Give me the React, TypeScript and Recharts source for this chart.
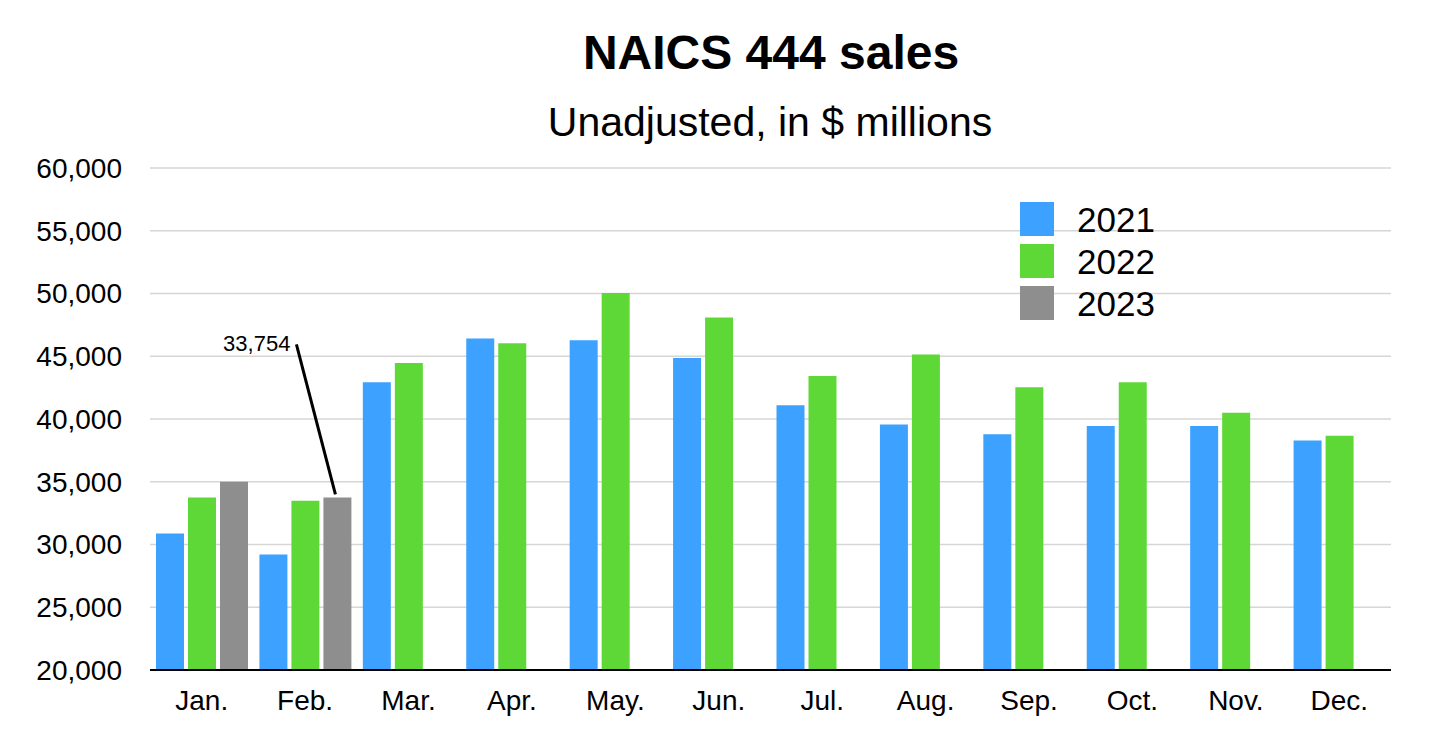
import React from "react";
import {
  BarChart,
  Bar,
  XAxis,
  YAxis,
  CartesianGrid,
  Legend,
  LabelList,
} from "recharts";

const months = ["Jan.", "Feb.", "Mar.", "Apr.", "May.", "Jun.", "Jul.", "Aug.", "Sep.", "Oct.", "Nov.", "Dec."];
const sales2021 = [30880, 29210, 42930, 46410, 46270, 44870, 41100, 39560, 38790, 39450, 39450, 38290];
const sales2022 = [33750, 33480, 44470, 46030, 50040, 48080, 43430, 45130, 42530, 42930, 40490, 38660];
const sales2023: (number | null)[] = [35000, 33754, null, null, null, null, null, null, null, null, null, null];
const yTicks = [20000, 25000, 30000, 35000, 40000, 45000, 50000, 55000, 60000];
const calloutIndex = 1;

const series = [
  { key: "y2021", name: "2021", color: "#3DA1FF" },
  { key: "y2022", name: "2022", color: "#5ED836" },
  { key: "y2023", name: "2023", color: "#8E8E8E" },
];

const data = months.map((m, i) => ({
  month: m,
  y2021: sales2021[i],
  y2022: sales2022[i],
  y2023: sales2023[i],
}));

const FONT = '"Liberation Sans", Arial, Helvetica, sans-serif';
const fmt = (v: number) => v.toLocaleString("en-US");

function Callout(props: any) {
  const { x, y, width, value, index } = props;
  if (index !== calloutIndex || value == null) return null;
  const cx = x + width / 2;
  return (
    <g>
      <line x1={cx - 41} y1={y - 153} x2={cx - 2} y2={y - 3} stroke="#000" strokeWidth={3} />
      <text x={cx - 47} y={y - 146} textAnchor="end" fontSize={22} fill="#000" fontFamily={FONT}>
        {fmt(value)}
      </text>
    </g>
  );
}

function LegendBox() {
  return (
    <div style={{ fontFamily: FONT }}>
      {series.map((s) => (
        <div key={s.key} style={{ display: "flex", alignItems: "center", height: 42 }}>
          <div style={{ width: 34, height: 34, background: s.color, marginRight: 23 }} />
          <span style={{ fontSize: 35, color: "#000", lineHeight: "35px" }}>{s.name}</span>
        </div>
      ))}
    </div>
  );
}

export default function App() {
  return (
    <div
      style={{
        position: "absolute",
        left: 0,
        top: 0,
        width: 1440,
        height: 741,
        background: "#fff",
        fontFamily: FONT,
      }}
    >
      <div
        style={{
          position: "absolute",
          left: 0,
          width: 1542,
          top: 29,
          textAlign: "center",
          fontSize: 48,
          lineHeight: "48px",
          fontWeight: "bold",
          color: "#000",
        }}
      >
        NAICS 444 sales
      </div>
      <div
        style={{
          position: "absolute",
          left: 0,
          width: 1540,
          top: 102,
          textAlign: "center",
          fontSize: 41,
          lineHeight: "41px",
          color: "#000",
        }}
      >
        Unadjusted, in $ millions
      </div>
      <BarChart
        width={1440}
        height={741}
        data={data}
        margin={{ top: 168, right: 49, left: 0, bottom: 21 }}
        barSize={28}
        barGap={4}
      >
        <CartesianGrid horizontal vertical={false} stroke="#d6d6d6" strokeWidth={1.5} />
        <XAxis
          dataKey="month"
          height={50}
          axisLine={{ stroke: "#000", strokeWidth: 2 }}
          tickLine={false}
          tickMargin={14}
          tick={{ fontSize: 28, fill: "#000", fontFamily: FONT }}
        />
        <YAxis
          width={150}
          domain={[20000, 60000]}
          ticks={yTicks}
          allowDataOverflow
          axisLine={false}
          tickLine={false}
          tickMargin={22}
          tickFormatter={fmt}
          tick={{ fontSize: 28, fill: "#000", fontFamily: FONT }}
        />
        <Legend
          layout="vertical"
          align="center"
          verticalAlign="middle"
          content={() => <LegendBox />}
          wrapperStyle={{ left: 1020, top: 198, width: 200 }}
        />
        {series.map((s) => (
          <Bar key={s.key} dataKey={s.key} name={s.name} fill={s.color} isAnimationActive={false}>
            {s.key === "y2023" ? <LabelList dataKey={s.key} content={Callout} /> : null}
          </Bar>
        ))}
      </BarChart>
    </div>
  );
}
